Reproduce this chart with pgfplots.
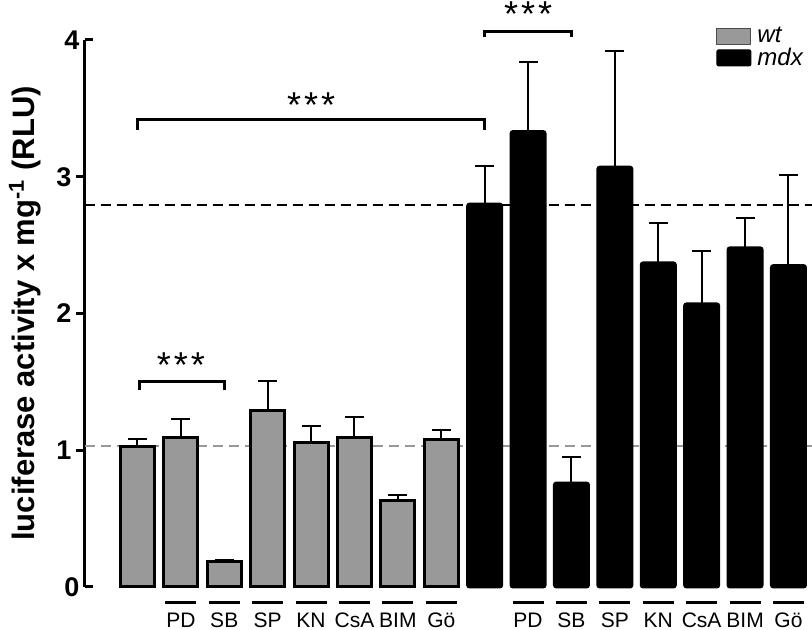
\documentclass[border=0pt]{standalone}
\usepackage{fontspec}
\setmainfont{Liberation Sans}
\usepackage{pgfplots}
\pgfplotsset{compat=1.18}
\definecolor{bargray}{RGB}{153,153,153}
\newcommand\lab[1]{\rule{15.5pt}{1.5pt}\\#1}
\pgfplotstableread{
x y e
0 1.03 0.055
1 1.095 0.13
2 0.185 0.015
3 1.29 0.22
4 1.055 0.12
5 1.09 0.155
6 0.63 0.04
7 1.075 0.07
}\wt
\pgfplotstableread{
x y e
8 2.80 0.28
9 3.33 0.51
10 0.76 0.19
11 3.07 0.85
12 2.37 0.29
13 2.07 0.39
14 2.48 0.22
15 2.35 0.66
}\mdx
\begin{document}
\begin{tikzpicture}
\begin{axis}[
  scale only axis,
  width=363.7pt, height=273.5pt,
  xmin=-1.22, xmax=15.54,
  ymin=0, ymax=4,
  clip=false,
  axis y line=left,
  axis x line=bottom,
  x axis line style={draw=none},
  y axis line style={line width=1.5pt, -},
  ytick={1,2,3},
  tick align=outside,
  major tick length=4pt,
  ytick style={line width=1.5pt, black},
  extra y ticks={0,4},
  extra y tick style={tick align=inside, ytick style={line width=1.5pt, black}},
  yticklabel style={font=\bfseries\fontsize{13.5}{13.5}\selectfont, xshift=1pt},
  /pgf/number format/assume math mode=true,
  xtick={0,...,15},
  xtick style={draw=none},
  xticklabels={,\lab{PD},\lab{SB},\lab{SP},\lab{KN},\lab{CsA},\lab{BIM},\lab{Gö},,\lab{PD},\lab{SB},\lab{SP},\lab{KN},\lab{CsA},\lab{BIM},\lab{Gö}},
  xticklabel style={anchor=north, inner sep=0pt, yshift=-3pt, align=center, font=\fontsize{10.5}{11.5}\selectfont},
  ylabel={\bfseries luciferase activity x mg\textsuperscript{-1} (RLU)},
  ylabel style={at={(rel axis cs:-0.0818,0.5)}, anchor=center, font=\fontsize{15.5}{15.5}\selectfont},
  legend style={at={(rel axis cs:0.868,1.026)}, anchor=north west, draw=none, fill=none, inner sep=0pt, row sep=0pt, font=\itshape\fontsize{12}{12}\selectfont, nodes={inner xsep=3pt, inner ysep=0.5pt}},
  legend cell align=left,
]
\coordinate (sw) at (rel axis cs:0,0);
\draw[bargray, line width=1pt, dash pattern=on 5pt off 3pt] (axis cs:-1.22,1.03) -- (axis cs:15.54,1.03);
\draw[black, line width=1pt, dash pattern=on 5pt off 3pt] (axis cs:-1.22,2.79) -- (axis cs:15.54,2.79);
\addplot[ybar, bar width=17pt, bar shift=0pt, fill=bargray, draw=black, line width=1.5pt,
  legend image code/.code={\draw[fill=bargray, draw=black!70, line width=0.6pt] (0pt,-4pt) rectangle (17pt,4pt);},
  error bars/.cd, y dir=plus, y explicit,
  error bar style={line width=1pt, black},
  error mark options={rotate=90, mark size=4.75pt, line width=1pt, black}]
  table[x=x, y=y, y error=e] {\wt};
\addlegendentry{wt}
\addplot[ybar, bar width=17pt, bar shift=0pt, fill=black, draw=black, line width=1.5pt, rounded corners=1pt,
  legend image code/.code={\draw[fill=black, draw=black, line width=0.6pt] (0pt,-4pt) rectangle (17pt,4pt);},
  error bars/.cd, y dir=plus, y explicit,
  error bar style={line width=1pt, black},
  error mark options={rotate=90, mark size=4.75pt, line width=1pt, black}]
  table[x=x, y=y, y error=e] {\mdx};
\addlegendentry{mdx}
\draw[line width=1.5pt] (axis cs:0.05,1.44) -- (axis cs:0.05,1.50) -- (axis cs:2,1.50) -- (axis cs:2,1.44);
\node[anchor=base, font=\fontsize{18}{18}\selectfont] at (axis cs:1,1.535) {*\hspace{1.5pt}*\hspace{1.5pt}*};
\draw[line width=1.5pt] (axis cs:0,3.34) -- (axis cs:0,3.415) -- (axis cs:8,3.415) -- (axis cs:8,3.34);
\node[anchor=base, font=\fontsize{18}{18}\selectfont] at (axis cs:4,3.433) {*\hspace{1.5pt}*\hspace{1.5pt}*};
\draw[line width=1.5pt] (axis cs:8,4.02) -- (axis cs:8,4.06) -- (axis cs:10,4.06) -- (axis cs:10,4.02);
\node[anchor=base, font=\fontsize{18}{18}\selectfont] at (axis cs:9,4.097) {*\hspace{1.5pt}*\hspace{1.5pt}*};
\end{axis}
\pgfresetboundingbox
\path[use as bounding box] ([shift={(-42.25pt,-21.5pt)}]sw) rectangle ++(406pt,315pt);
\end{tikzpicture}
\end{document}
